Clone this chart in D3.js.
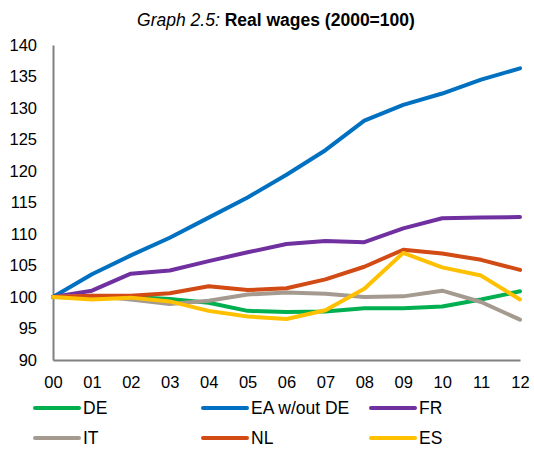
<!DOCTYPE html>
<html>
<head>
<meta charset="utf-8">
<script src="https://cdn.jsdelivr.net/npm/d3@7"></script>
<style>
  body { margin: 0; background: #fff; }
  text { font-family: "Liberation Sans", Arial, sans-serif; fill: #000; }
</style>
</head>
<body>
<div id="chart"></div>
<script>
const years = ['00','01','02','03','04','05','06','07','08','09','10','11','12']
const yTicks = [90, 95, 100, 105, 110, 115, 120, 125, 130, 135, 140]

const seriesNames = ['DE', 'EA w/out DE', 'FR', 'IT', 'NL', 'ES']
const seriesColors = ['#00b050', '#0070c0', '#7030a0', '#a49a90', '#d24a14', '#ffc000']

const de = [100, 99.9, 100.0, 99.7, 99.1, 97.8, 97.6, 97.7, 98.2, 98.2, 98.5, 99.6, 100.9]
const ea = [100, 103.6, 106.6, 109.4, 112.6, 115.8, 119.4, 123.3, 128.0, 130.5, 132.3, 134.5, 136.3]
const fr = [100, 101.0, 103.7, 104.2, 105.7, 107.1, 108.4, 108.9, 108.7, 110.9, 112.5, 112.6, 112.7]
const it = [100, 100.2, 99.6, 98.9, 99.4, 100.4, 100.7, 100.5, 100.0, 100.1, 101.0, 99.2, 96.4]
const nl = [100, 100.2, 100.2, 100.6, 101.7, 101.1, 101.4, 102.8, 104.8, 107.5, 106.9, 105.9, 104.3]
const es = [100, 99.6, 99.9, 99.3, 97.8, 96.9, 96.5, 97.9, 101.3, 107.0, 104.7, 103.4, 99.6]

const seriesValues = [de, ea, fr, it, nl, es]

const width = 534
const height = 450
const plot = { left: 53, right: 520, top: 45, bottom: 360 }

const svg = d3.select('#chart')
    .append('svg')
    .attr('width', width)
    .attr('height', height)

// title
const title = svg.append('text')
    .attr('x', 276)
    .attr('y', 26)
    .attr('text-anchor', 'middle')
    .style('font-size', '17.5px')
title.append('tspan').style('font-style', 'italic').text('Graph 2.5: ')
title.append('tspan').style('font-weight', 'bold').text('Real wages (2000=100)')

const x = d3.scalePoint()
    .domain(years)
    .range([plot.left, plot.right])

const y = d3.scaleLinear()
    .domain([90, 140])
    .range([plot.bottom, plot.top])

// y axis
const yAxis = d3.axisLeft(y).tickValues(yTicks).tickSize(0).tickPadding(16)
const gy = svg.append('g')
    .attr('transform', `translate(${plot.left},0)`)
    .call(yAxis)
gy.select('.domain').attr('stroke', '#808080').attr('stroke-width', 2)
gy.selectAll('text').style('font-size', '16.5px').attr('font-family', null)

// x axis
const xAxis = d3.axisBottom(x).tickSize(0).tickPadding(16)
const gx = svg.append('g')
    .attr('transform', `translate(0,${plot.bottom})`)
    .call(xAxis)
gx.select('.domain').attr('stroke', '#808080').attr('stroke-width', 2)
gx.selectAll('text').style('font-size', '16.5px').attr('font-family', null)

// lines
const line = d3.line()
    .x((d, i) => x(years[i]))
    .y(d => y(d))

svg.selectAll('.series')
    .data(seriesValues)
    .enter()
    .append('path')
    .attr('class', 'series')
    .attr('d', line)
    .attr('fill', 'none')
    .attr('stroke', (d, i) => seriesColors[i])
    .attr('stroke-width', 4)
    .attr('stroke-linejoin', 'round')
    .attr('stroke-linecap', 'round')

// legend
const legendX = [33, 201, 369]
const legendY = [408, 438]
const legend = svg.selectAll('.legend')
    .data(seriesNames)
    .enter()
    .append('g')
    .attr('class', 'legend')
    .attr('transform', (d, i) => `translate(${legendX[i % 3]},${legendY[Math.floor(i / 3)]})`)

legend.append('line')
    .attr('x1', 2)
    .attr('x2', 46)
    .attr('stroke', (d, i) => seriesColors[i])
    .attr('stroke-width', 4)
    .attr('stroke-linecap', 'round')

legend.append('text')
    .attr('x', 50)
    .attr('dy', '0.36em')
    .style('font-size', '17.5px')
    .text(d => d)
</script>
</body>
</html>
